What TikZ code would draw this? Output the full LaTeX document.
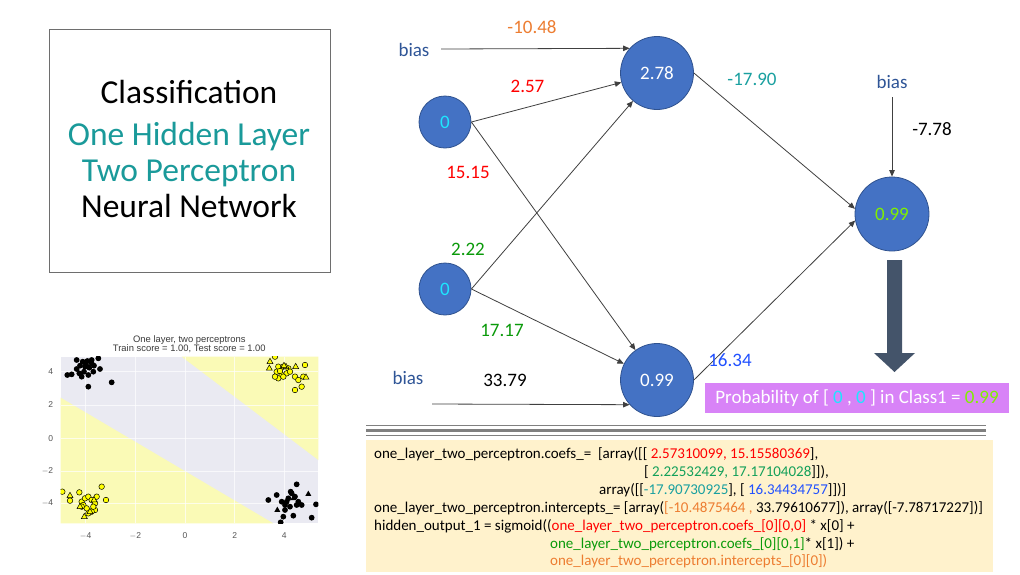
\documentclass[tikz,border=0pt]{standalone}
\usepackage{fontspec}
\setmainfont{Carlito}
\newfontfamily\plotfont{Liberation Sans}
\usetikzlibrary{arrows.meta}

\definecolor{nodefill}{HTML}{4472C4}
\definecolor{nodeline}{HTML}{2F528F}
\definecolor{biasblue}{HTML}{2F5597}
\definecolor{wred}{HTML}{FF0000}
\definecolor{worange}{HTML}{ED7D31}
\definecolor{wgreen}{HTML}{0A9A0A}
\definecolor{codegreen}{HTML}{13A05A}
\definecolor{wteal}{HTML}{1AA0A0}
\definecolor{wblue}{HTML}{2050FF}
\definecolor{titleteal}{HTML}{1A9A9A}
\definecolor{incyan}{HTML}{1EE6FF}
\definecolor{outgreen}{HTML}{80F000}
\definecolor{bigarrow}{HTML}{44546A}
\definecolor{probbox}{HTML}{D883F7}
\definecolor{codebg}{HTML}{FFF2CC}
\definecolor{rulegray}{HTML}{808080}
\definecolor{edgegray}{HTML}{404040}
\definecolor{framegray}{HTML}{6E6E6E}
\definecolor{plotgray}{HTML}{EAEAF2}
\definecolor{plotyellow}{HTML}{FAFAB6}
\definecolor{pointyellow}{HTML}{FFFF00}
\definecolor{ticktext}{HTML}{555555}

\tikzset{
  neuron/.style={circle, fill=nodefill, draw=nodeline, line width=0.8pt,
    inner sep=0pt, text=white, font=\fontsize{19}{22}\selectfont},
  wlabel/.style={inner sep=0pt, font=\fontsize{19}{22}\selectfont},
  titleline/.style={anchor=base, inner sep=0pt, font=\fontsize{33.5}{38}\selectfont},
  conn/.style={draw=edgegray, line width=0.8pt, -{Triangle[length=6.5pt,width=5.5pt]}},
  codeline/.style={anchor=base west, inner sep=0pt, font=\fontsize{15}{17}\selectfont},
  ticklab/.style={inner sep=0pt, text=ticktext, font=\plotfont\fontsize{8.5}{10}\selectfont},
  plottitle/.style={inner sep=0pt, text=ticktext!70!black, font=\plotfont\fontsize{9.4}{11}\selectfont},
  blackpt/.style={fill=black},
  yellowpt/.style={fill=pointyellow, draw=black, line width=0.5pt},
}

\begin{document}
\begin{tikzpicture}[x=1pt, y=-1pt]
\useasboundingbox (0,0) rectangle (1020,574);
\fill[white] (0,0) rectangle (1020,574);

% ---------- title frame ----------
\node[draw=framegray, line width=1pt, minimum width=281pt, minimum height=243pt, inner sep=0pt]
  (titlebox) at (189.5,150.5) {};
\node[titleline] (t1) at (189,103) {Classification};
\node[titleline, text=titleteal] (t2) at (189,145) {One Hidden Layer};
\node[titleline, text=titleteal] (t3) at (189,181) {Two Perceptron};
\node[titleline] (t4) at (189,217) {Neural Network};

% ---------- network ----------
\node[neuron, minimum size=52pt, text=incyan] (i1) at (445,122) {0};
\node[neuron, minimum size=52pt, text=incyan] (i2) at (445,289) {0};
\node[neuron, minimum size=73pt] (h1) at (657,73) {2.78};
\node[neuron, minimum size=73pt] (h2) at (657,380) {0.99};
\node[neuron, minimum size=74pt, text=outgreen] (o) at (892,214) {0.99};

\node[wlabel, text=biasblue] (bias1) at (414,50) {bias};
\node[wlabel, text=biasblue] (bias2) at (408,378) {bias};
\node[wlabel, text=biasblue] (bias3) at (892,82) {bias};
\coordinate (b1) at (441,49);
\coordinate (b2) at (432,404);
\coordinate (b3) at (892,97);

\draw[conn] (b1) -- (h1.138);
\draw[conn] (b2) -- (h2.222);
\draw[conn] (b3) -- (o.north);
\draw[conn] (i1.east) -- (h1);
\draw[conn] (i1.east) -- (h2);
\draw[conn] (i2.east) -- (h1);
\draw[conn] (i2.east) -- (h2);
\draw[conn] (h1.east) -- (o.172);
\draw[conn] (h2.east) -- (o.190);

\node[wlabel, text=worange] (w0) at (532,27) {-10.48};
\node[wlabel, text=wred] (w1) at (527.5,86) {2.57};
\node[wlabel, text=wred] (w2) at (468,172) {15.15};
\node[wlabel, text=wgreen] (w3) at (468,249) {2.22};
\node[wlabel, text=wgreen] (w4) at (502,330) {17.17};
\node[wlabel] (w5) at (505,380) {33.79};
\node[wlabel, text=wteal] (w6) at (752,79) {-17.90};
\node[wlabel, text=wblue] (w7) at (730,360) {16.34};
\node[wlabel] (w8) at (932,129) {-7.78};

% big output arrow
\fill[bigarrow] (887,260) -- (902,260) -- (902,353) -- (915,353) -- (894.5,372)
  -- (874,353) -- (887,353) -- cycle;

% probability banner
\node[fill=probbox, minimum width=304pt, minimum height=30pt, inner sep=0pt, text=white,
  font=\fontsize{19}{22}\selectfont] (prob) at (857,398)
  {Probability of [ {\color{incyan}0} , {\color{incyan}0} ] in Class1 = {\color{outgreen}0.99}};

% ---------- separator rules ----------
\draw[rulegray, line width=1.3pt] (366,425.7) -- (986,425.7);
\draw[rulegray, line width=3.3pt] (366,430.7) -- (986,430.7);
\draw[rulegray, line width=1.3pt] (366,435.3) -- (986,435.3);

% ---------- code panel ----------
\node[fill=codebg, anchor=north west, minimum width=627pt, minimum height=132pt, inner sep=0pt]
  (codebox) at (366,440) {};
\node[codeline] (c1) at (374,458.8) {one\_layer\_two\_perceptron.coefs\_=\ \ [array([[ {\color{wred}2.57310099, 15.15580369}],};
\node[codeline] (c2) at (644,476.6) {[ {\color{codegreen}2.22532429, 17.17104028}]]),};
\node[codeline] (c3) at (599,494.5) {array([[{\color{wteal}-17.90730925}], [ {\color{wblue}16.34434757}]])]};
\node[codeline] (c4) at (374,512.3) {one\_layer\_two\_perceptron.intercepts\_= [array({\color{worange}[-10.4875464 ,} 33.79610677]), array([-7.78717227])]};
\node[codeline] (c5) at (374,530.1) {hidden\_output\_1 = sigmoid(({\color{wred}one\_layer\_two\_perceptron.coefs\_[0][0,0]} * x[0] +};
\node[codeline, text=wgreen] (c6) at (550,548) {one\_layer\_two\_perceptron.coefs\_[0][0,1]{\color{black}* x[1]) +}};
\node[codeline, text=worange] (c7) at (550,565.8) {one\_layer\_two\_perceptron.intercepts\_[0][0])};

% ---------- decision-region plot ----------
\begin{scope}[shift={(30,325)}, x=0.33333pt, y=-0.33333pt]
  \node[plottitle] (ptitle1) at (478,45) {One layer, two perceptrons};
  \node[plottitle] (ptitle2) at (478,72) {Train score = 1.00, Test score = 1.00};

  \fill[plotgray] (92,95) rectangle (865,595);
  \fill[plotyellow] (455,95) -- (865,95) -- (865,405) -- cycle;
  \fill[plotyellow] (92,218) -- (92,595) -- (730,595) -- cycle;
  \foreach \gx in {167,316,465,614,763}
    \draw[white, line width=0.5pt, opacity=0.7] (\gx,95) -- (\gx,595);
  \foreach \gy in {140,240,340,438,535}
    \draw[white, line width=0.5pt, opacity=0.7] (92,\gy) -- (865,\gy);

  \foreach \gx/\lab in {167/$-$4,316/$-$2,465/0,614/2,763/4}
    \node[ticklab] at (\gx,633) {\lab};
  \foreach \gy/\lab in {140/4,240/2,340/0,438/$-$2,535/$-$4}
    \node[ticklab, anchor=east] at (70,\gy) {\lab};

  \begin{scope}
    \clip (92,95) rectangle (865,595);
    % class 0 samples
    \foreach \px/\py in {140/105,158/110,172/108,185/115,205/100,150/122,165/125,178/128,
        192/122,210/132,125/148,112/150,148/145,162/140,175/150,190/140,155/155,140/132,
        175/185,245/172,168/118,185/105,
        715/525,740/510,755/530,765/540,775/520,785/505,795/515,805/530,780/545,765/555,
        760/575,790/572,800/478,815/540,845/578,858/538,752/592,782/500,770/530,800/540}
      \fill[blackpt] (\px,\py) circle[radius=2.9pt];
    \foreach \px/\py in {835/507,742/555,790/520}
      \fill[blackpt] (\px,\py) ++(0pt,3.4pt) -- ++(3pt,-5.3pt) -- ++(-6pt,0pt) -- cycle;
    % class 1 samples
    \foreach \px/\py in {735/95,745/125,760/125,775/130,740/140,755/150,770/145,780/140,
        795/155,805/165,825/120,820/155,745/160,735/155,815/185,795/195,760/155,750/138,
        97/500,120/527,148/502,155/530,165/520,175/515,185/525,195/535,215/485,228/525,
        195/555,185/560,175/565,160/540,170/550,200/515,190/545,155/545}
      \filldraw[yellowpt] (\px,\py) circle[radius=2.8pt];
    \foreach \px/\py in {720/110,718/130,768/125,797/125,828/157,762/122,
        120/512,150/545,163/575,180/560,192/525}
      \filldraw[yellowpt] (\px,\py) ++(0pt,3.4pt) -- ++(3pt,-5.3pt) -- ++(-6pt,0pt) -- cycle;
  \end{scope}
\end{scope}
\end{tikzpicture}
\end{document}
